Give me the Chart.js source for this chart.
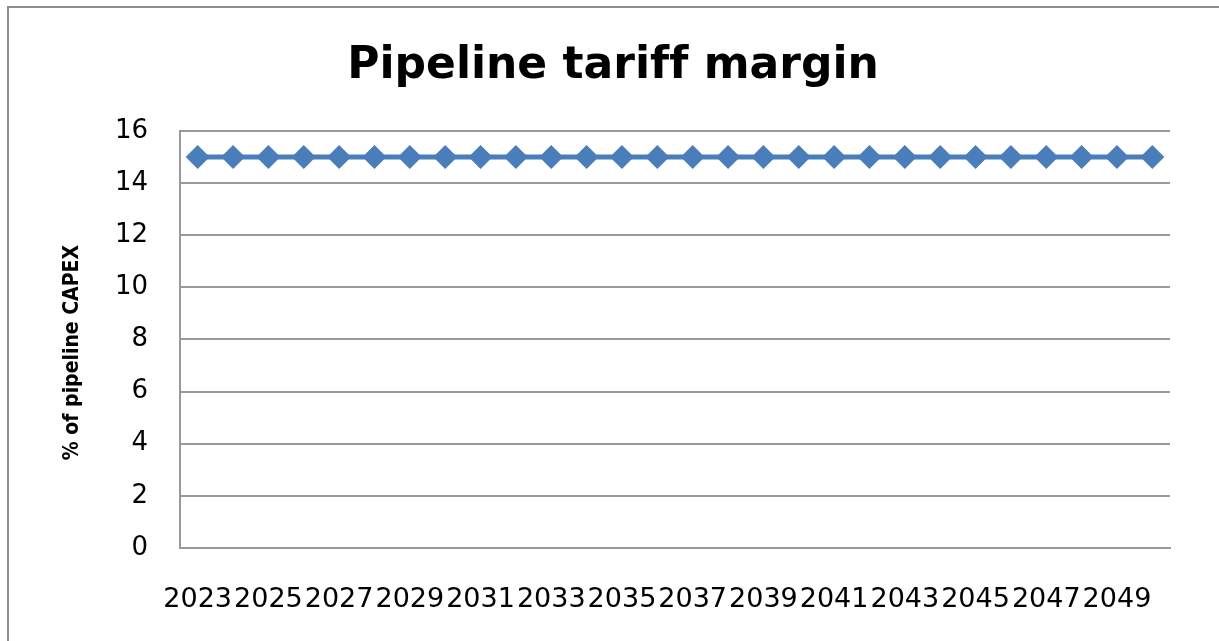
<!DOCTYPE html>
<html>
<head>
<meta charset="utf-8">
<title>Pipeline tariff margin</title>
<script src="https://cdn.jsdelivr.net/npm/chart.js@4/dist/chart.umd.min.js"></script>
<style>
  html, body { margin: 0; padding: 0; background: #ffffff; overflow: hidden; }
  #wrap { position: relative; width: 1219px; height: 641px; }
</style>
</head>
<body>
<div id="wrap"><canvas id="chart" width="1219" height="641"></canvas></div>
<script>
// Years on the category axis
const years = [2023, 2024, 2025, 2026, 2027, 2028, 2029, 2030, 2031, 2032, 2033, 2034, 2035, 2036,
               2037, 2038, 2039, 2040, 2041, 2042, 2043, 2044, 2045, 2046, 2047, 2048, 2049, 2050];
// Tariff margin, % of pipeline CAPEX
const margin = [15, 15, 15, 15, 15, 15, 15, 15, 15, 15, 15, 15, 15, 15,
                15, 15, 15, 15, 15, 15, 15, 15, 15, 15, 15, 15, 15, 15];
// Value axis ticks
const yTicks = [0, 2, 4, 6, 8, 10, 12, 14, 16];

const GRID = '#999999';
const BLUE = '#4a7ebb';

// Thin frame around the whole chart
const frame = {
  id: 'frame',
  beforeDraw(chart) {
    const ctx = chart.ctx;
    ctx.save();
    ctx.fillStyle = '#ffffff';
    ctx.fillRect(0, 0, chart.width, chart.height);
    ctx.strokeStyle = '#8c8c8c';
    ctx.lineWidth = 2;
    ctx.strokeRect(8, 7, chart.width + 20, chart.height + 20);
    ctx.restore();
  }
};

new Chart(document.getElementById('chart'), {
  type: 'line',
  data: {
    labels: years.map(String),
    datasets: [{
      data: margin,
      borderColor: BLUE,
      backgroundColor: BLUE,
      borderWidth: 5,
      pointStyle: 'rectRot',
      pointRadius: 12,
      pointHoverRadius: 12,
      pointBorderWidth: 0,
      tension: 0
    }]
  },
  options: {
    responsive: false,
    animation: false,
    layout: { padding: { left: 56, right: 49, top: 0, bottom: 0 } },
    plugins: {
      legend: { display: false },
      tooltip: { enabled: false },
      title: {
        display: true,
        // ZWNJ keeps the two f's as separate glyphs
        text: 'Pipeline tarif\u200Cf margin',
        color: '#000000',
        font: { family: 'DejaVu Sans', size: 44, weight: 'bold', lineHeight: 1.2 },
        padding: { top: 40, bottom: 38 }
      }
    },
    scales: {
      x: {
        type: 'category',
        offset: true,
        grid: { display: false, drawTicks: false },
        border: { display: true, color: GRID, width: 2 },
        ticks: {
          autoSkip: false,
          maxRotation: 0,
          minRotation: 0,
          padding: 36,
          color: '#000000',
          font: { family: 'DejaVu Sans', size: 27 },
          callback: (v, i) => (i % 2 === 0 ? years[i] : '')
        },
        afterFit: (s) => { s.height = 93; }
      },
      y: {
        min: 0,
        max: 16,
        afterBuildTicks: (s) => { s.ticks = yTicks.map(v => ({ value: v })); },
        grid: { color: GRID, lineWidth: 2, drawTicks: false },
        border: { display: true, color: GRID, width: 2 },
        ticks: {
          padding: 32,
          color: '#000000',
          font: { family: 'DejaVu Sans', size: 26 }
        },
        title: {
          display: true,
          text: '% of pipeline CAPEX    ',
          color: '#000000',
          font: { family: "'Liberation Sans Narrow', 'DejaVu Sans Condensed', sans-serif", size: 21, weight: 'bold' },
          padding: { top: 4, bottom: 0 }
        },
        afterFit: (s) => { s.width = 124; }
      }
    }
  },
  plugins: [frame]
});
</script>
</body>
</html>
